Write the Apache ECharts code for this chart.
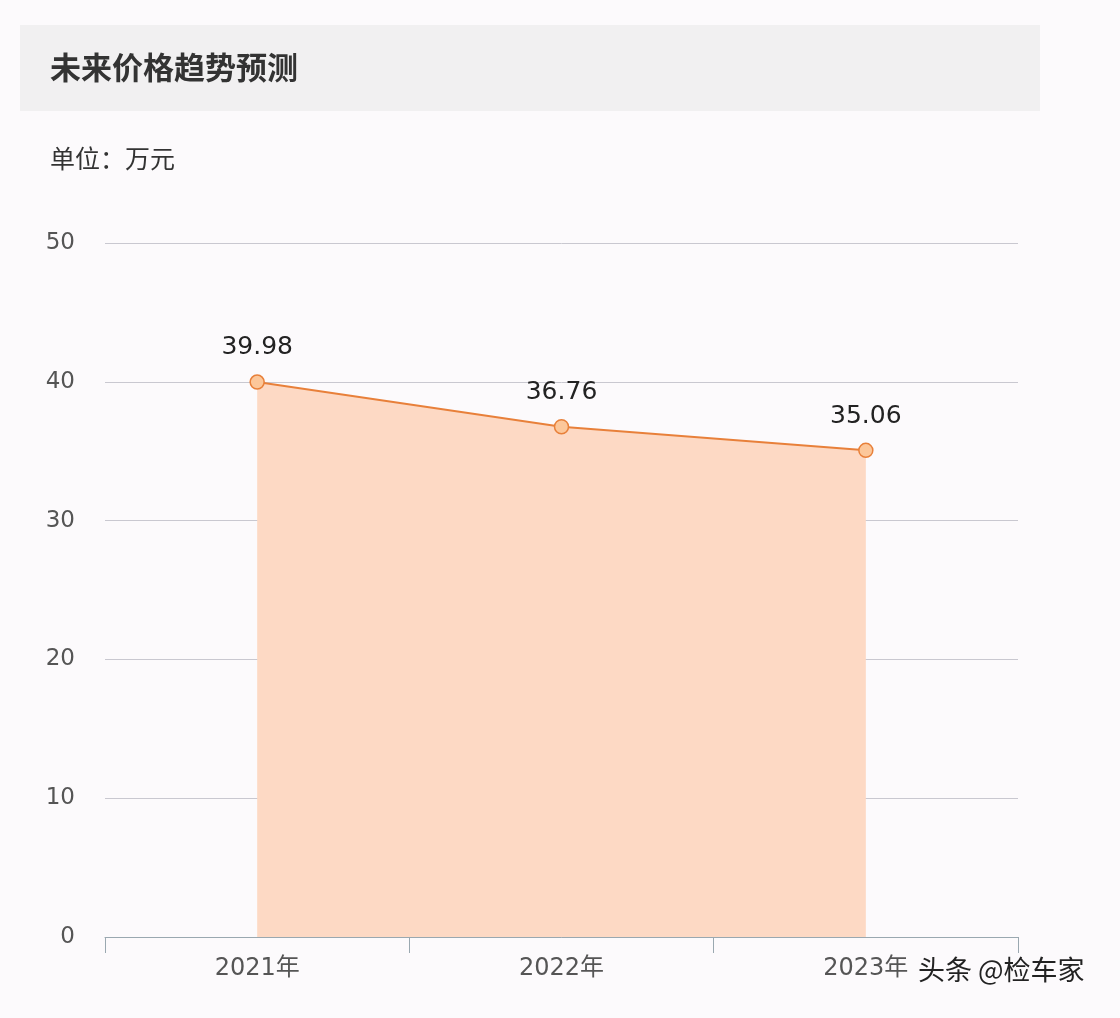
<!DOCTYPE html>
<html>
<head>
<meta charset="utf-8">
<style>
html,body{margin:0;padding:0;background:#fcfafc;}
#chart{width:1120px;height:1018px;}
</style>
<script src="https://cdn.jsdelivr.net/npm/echarts@6/dist/echarts.min.js"></script>
</head>
<body>
<div id="chart"></div>
<script>
var years = ['2021年', '2022年', '2023年'];
var prices = [39.98, 36.76, 35.06];

var myChart = echarts.init(document.getElementById('chart'));
var font = '"Noto Sans CJK SC", "Noto Sans", sans-serif';
var numFont = '"DejaVu Sans", "Noto Sans CJK SC", sans-serif';
option = {
    backgroundColor: '#fcfafc',
    textStyle: {fontFamily: font},
    graphic: [
        {type: 'rect', shape: {x: 20, y: 25, width: 1020, height: 86}, style: {fill: '#f1f0f1'}},
        {type: 'text', left: 50, top: 52, style: {text: '未来价格趋势预测', fontSize: 31, fontWeight: 'bold', fill: '#333', fontFamily: font}},
        {type: 'text', left: 50, top: 146, style: {text: '单位：万元', fontSize: 25, fill: '#333', fontFamily: font}},
        {type: 'text', left: 918, top: 956, style: {text: '头条 @检车家', fontSize: 27, fill: '#222', fontFamily: font}}
    ],
    grid: {left: 105, right: 102, top: 243, bottom: 81},
    xAxis: {
        type: 'category',
        boundaryGap: true,
        data: years,
        axisLine: {lineStyle: {color: '#9aa8b0'}},
        axisTick: {show: true, length: 16, lineStyle: {color: '#9aa8b0'}},
        axisLabel: {fontSize: 24, color: '#555', margin: 20, fontFamily: numFont}
    },
    yAxis: {
        type: 'value',
        min: 0,
        max: 50,
        interval: 10,
        axisLine: {show: false},
        axisTick: {show: false},
        axisLabel: {fontSize: 23, color: '#555', margin: 30, fontFamily: numFont},
        splitLine: {lineStyle: {color: '#c9c8d0'}}
    },
    series: [{
        type: 'line',
        data: prices,
        symbol: 'circle',
        symbolSize: 14,
        lineStyle: {color: '#e8803a', width: 2},
        itemStyle: {color: '#fcc79a', borderColor: '#e8803a', borderWidth: 1.5},
        areaStyle: {color: '#fdd9c4', opacity: 1},
        label: {show: true, position: 'top', distance: 14, fontSize: 25, color: '#222', fontFamily: numFont}
    }]
};
myChart.setOption(option);
</script>
</body>
</html>
